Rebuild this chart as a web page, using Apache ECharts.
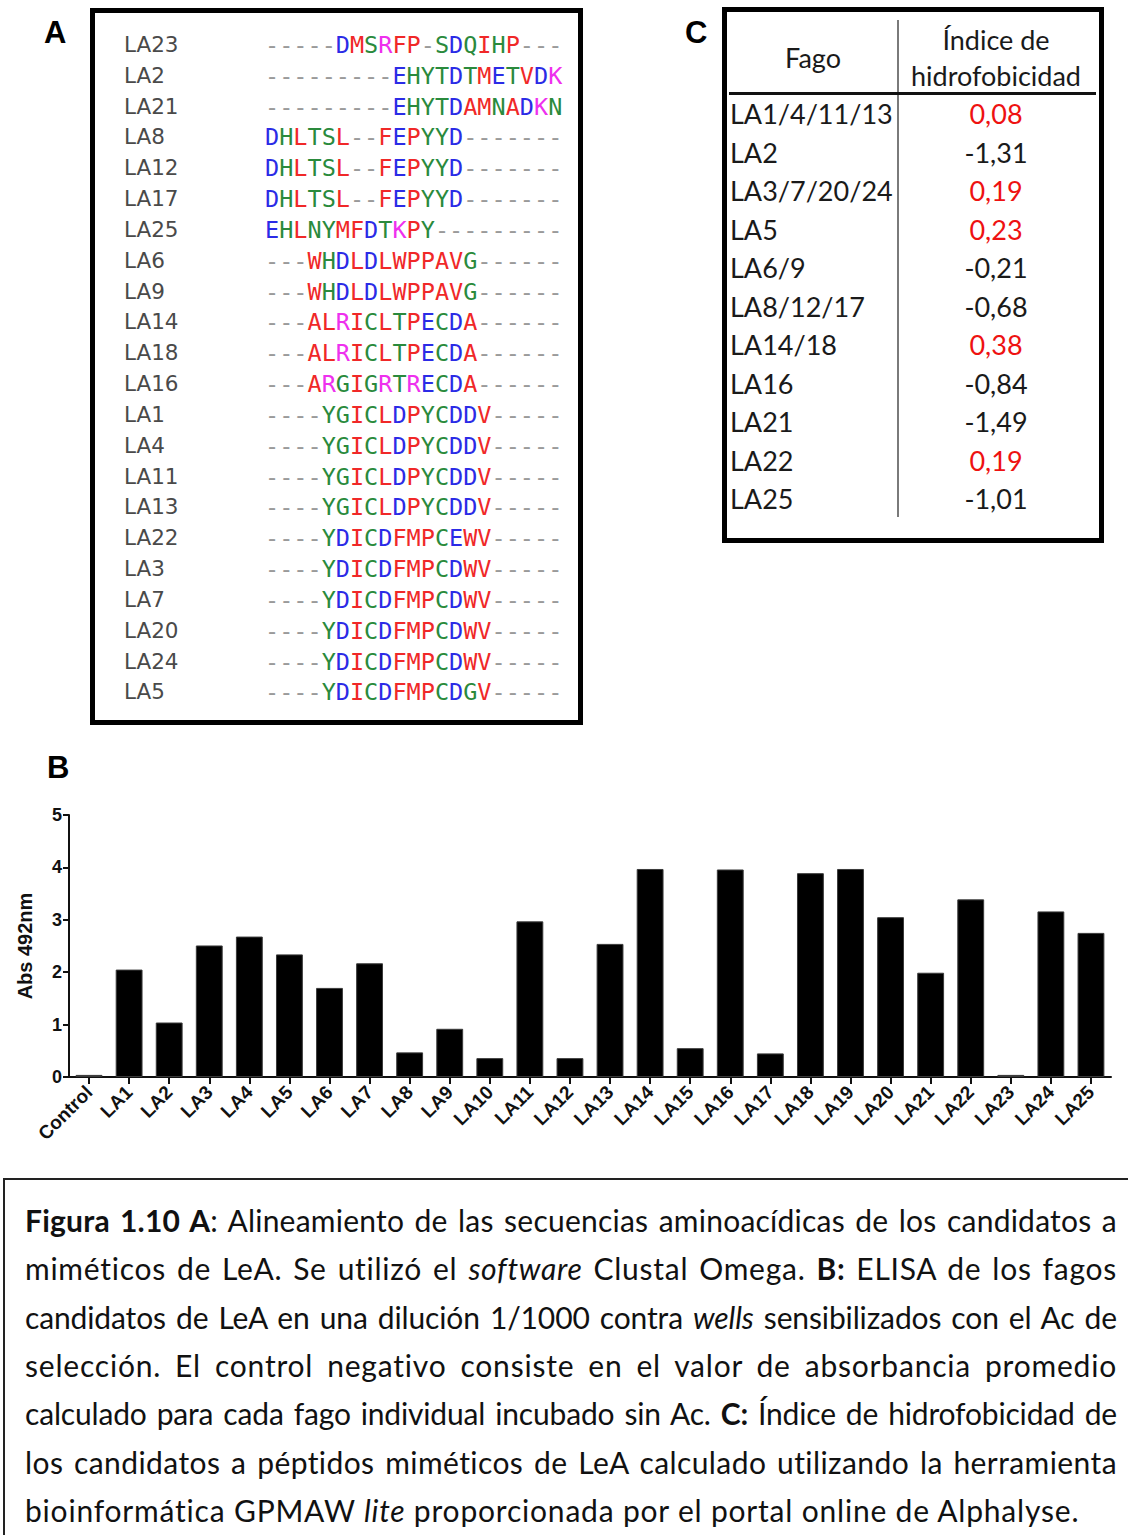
<!DOCTYPE html>
<html>
<head>
<meta charset="utf-8">
<script src="https://cdn.jsdelivr.net/npm/echarts@6/dist/echarts.min.js"></script>
<style>
  html, body { margin:0; padding:0; background:#fff; }
  body { width:1128px; height:1535px; position:relative; overflow:hidden; }
  .plabel { position:absolute; font-family:"Liberation Sans", Arial, sans-serif; font-weight:bold; font-size:31px; line-height:36px; color:#000; }
  #boxA { position:absolute; left:90px; top:8px; width:493px; height:717px; box-sizing:border-box; border:5px solid #000; }
  .alab { position:absolute; left:124px; height:30px; line-height:30px; font-family:"DejaVu Sans", sans-serif; font-size:21.5px; color:#4a4a4a; white-space:pre; }
  .aseq { position:absolute; left:265px; height:30px; line-height:30px; font-family:"DejaVu Sans Mono", monospace; font-size:23.5px; white-space:pre; }
  #boxC { position:absolute; left:722px; top:7px; width:382px; height:536px; box-sizing:border-box; border:5px solid #000; }
  .tc { position:absolute; font-family:Lato, "Noto Sans", sans-serif; font-size:27px; line-height:36px; color:#1a1a1a; white-space:pre; }
  #caption { position:absolute; left:3px; top:1178px; width:1140px; height:400px; box-sizing:border-box; border-left:2px solid #222; border-top:2px solid #222; }
  .cl { position:absolute; left:20px; font-family:Lato, "Noto Sans", sans-serif; font-size:30px; letter-spacing:0px; line-height:40px; color:#111; white-space:nowrap; }
  #chartB { position:absolute; left:0; top:790px; width:1128px; height:380px; }
</style>
</head>
<body>
<div class="plabel" style="left:44px; top:15px;">A</div>
<div class="plabel" style="left:685px; top:15px;">C</div>
<div class="plabel" style="left:47px; top:750px;">B</div>
<div id="boxA"></div>
<div id="alignRows"></div>
<div id="boxC"></div>
<div id="tableC"></div>
<div id="chartB"></div>
<div id="caption"></div>

<script>
// ---------- DATA ----------
// Panel A: alignment (Clustal Omega)
const alignNames = ["LA23","LA2","LA21","LA8","LA12","LA17","LA25","LA6","LA9","LA14","LA18","LA16","LA1","LA4","LA11","LA13","LA22","LA3","LA7","LA20","LA24","LA5"];
const alignSeqs = [
  "-----DMSRFP-SDQIHP---",
  "---------EHYTDTMETVDK",
  "---------EHYTDAMNADKN",
  "DHLTSL--FEPYYD-------",
  "DHLTSL--FEPYYD-------",
  "DHLTSL--FEPYYD-------",
  "EHLNYMFDTKPY---------",
  "---WHDLDLWPPAVG------",
  "---WHDLDLWPPAVG------",
  "---ALRICLTPECDA------",
  "---ALRICLTPECDA------",
  "---ARGIGRTRECDA------",
  "----YGICLDPYCDDV-----",
  "----YGICLDPYCDDV-----",
  "----YGICLDPYCDDV-----",
  "----YGICLDPYCDDV-----",
  "----YDICDFMPCEWV-----",
  "----YDICDFMPCDWV-----",
  "----YDICDFMPCDWV-----",
  "----YDICDFMPCDWV-----",
  "----YDICDFMPCDWV-----",
  "----YDICDFMPCDGV-----"
];

// Panel B: ELISA absorbance
const categories = ["Control","LA1","LA2","LA3","LA4","LA5","LA6","LA7","LA8","LA9","LA10","LA11","LA12","LA13","LA14","LA15","LA16","LA17","LA18","LA19","LA20","LA21","LA22","LA23","LA24","LA25"];
const absValues = [0.04,2.05,1.04,2.51,2.68,2.34,1.70,2.17,0.47,0.92,0.36,2.97,0.36,2.54,3.97,0.55,3.96,0.45,3.89,3.97,3.05,1.99,3.39,0.04,3.16,2.75];
const yAxisMin = 0, yAxisMax = 5, yAxisStep = 1;
const yAxisTitle = "Abs 492nm";

// Panel C: hydrophobicity index
const tableHeader = ["Fago", "Índice de", "hidrofobicidad"];
const fagoNames = ["LA1/4/11/13","LA2","LA3/7/20/24","LA5","LA6/9","LA8/12/17","LA14/18","LA16","LA21","LA22","LA25"];
const hydroIndex = [0.08,-1.31,0.19,0.23,-0.21,-0.68,0.38,-0.84,-1.49,0.19,-1.01];

// Caption
const captionLines = [
  "<b>Figura 1.10 A</b>: Alineamiento de las secuencias aminoacídicas de los candidatos a",
  "miméticos de LeA. Se utilizó el <i>software</i> Clustal Omega. <b>B:</b> ELISA de los fagos",
  "candidatos de LeA en una dilución 1/1000 contra <i>wells</i> sensibilizados con el Ac de",
  "selección. El control negativo consiste en el valor de absorbancia promedio",
  "calculado para cada fago individual incubado sin Ac. <b>C:</b> Índice de hidrofobicidad de",
  "los candidatos a péptidos miméticos de LeA calculado utilizando la herramienta",
  "bioinformática GPMAW <i>lite</i> proporcionada por el portal online de Alphalyse."
];

// ---------- PANEL A ----------
const residueColor = (ch) => {
  if (ch === "-") return "#9a9a9a";
  if ("AVFPMILW".includes(ch)) return "#f02828";
  if ("DE".includes(ch)) return "#2b2be6";
  if ("RK".includes(ch)) return "#ee30ee";
  return "#2a8a3c";
};
(function(){
  const wrap = document.getElementById("alignRows");
  const y0 = 45, dy = 30.83;
  alignNames.forEach((n, i) => {
    const cy = y0 + i * dy;
    const lab = document.createElement("div");
    lab.className = "alab"; lab.style.top = (cy - 15) + "px"; lab.textContent = n;
    wrap.appendChild(lab);
    const seq = document.createElement("div");
    seq.className = "aseq"; seq.style.top = (cy - 15) + "px";
    for (const ch of alignSeqs[i]) {
      const s = document.createElement("span");
      s.style.color = residueColor(ch); s.textContent = ch;
      seq.appendChild(s);
    }
    wrap.appendChild(seq);
  });
})();

// ---------- PANEL C ----------
(function(){
  const wrap = document.getElementById("tableC");
  const add = (txt, x, cy, align, color) => {
    const d = document.createElement("div");
    d.className = "tc"; d.textContent = txt;
    d.style.top = (cy - 18) + "px";
    if (align === "center") { d.style.left = (x - 150) + "px"; d.style.width = "300px"; d.style.textAlign = "center"; }
    else { d.style.left = x + "px"; }
    if (color) d.style.color = color;
    wrap.appendChild(d);
  };
  add(tableHeader[0], 813, 58, "center");
  add(tableHeader[1], 996, 40, "center");
  add(tableHeader[2], 996, 76, "center");
  const vline = document.createElement("div");
  vline.style.cssText = "position:absolute;left:897px;top:20px;width:2px;height:497px;background:#7a7a7a;";
  wrap.appendChild(vline);
  const hline = document.createElement("div");
  hline.style.cssText = "position:absolute;left:729px;top:92px;width:367px;height:3px;background:#111;";
  wrap.appendChild(hline);
  const fmt = v => v.toFixed(2).replace(".", ",");
  fagoNames.forEach((n, i) => {
    const cy = 114 + i * 38.5;
    add(n, 730, cy, "left");
    add(fmt(hydroIndex[i]), 996, cy, "center", hydroIndex[i] > 0 ? "#ee1111" : "#1a1a1a");
  });
})();

// ---------- CAPTION (justified by letter/word spacing) ----------
(function(){
  const wrap = document.getElementById("caption");
  const target = 1092;      // justified line width
  const lastTarget = 1058;  // natural width of the last line in the reference
  const maxLs = 0.8, minGap = 2.5;
  captionLines.forEach((html, i) => {
    const d = document.createElement("div");
    d.className = "cl";
    d.innerHTML = html;
    d.style.top = (1218 + i * 48.33 - 20 - 1178) + "px";
    wrap.appendChild(d);
    const n = d.textContent.length;
    const gaps = (d.textContent.match(/ /g) || []).length;
    const w0 = d.getBoundingClientRect().width;
    if (i < captionLines.length - 1) {
      const ls = Math.min(maxLs, (target - w0 - gaps * minGap) / n);
      d.style.letterSpacing = ls + "px";
      const w1 = d.getBoundingClientRect().width;
      d.style.wordSpacing = ((target - w1) / gaps) + "px";
    } else {
      const ls = Math.min(maxLs, (lastTarget - w0) / n);
      d.style.letterSpacing = ls + "px";
    }
  });
})();

// ---------- PANEL B (ECharts) ----------
const chart = echarts.init(document.getElementById("chartB"), null, { renderer: "svg" });
const axisFont = { fontFamily: "Liberation Sans, Arial, sans-serif", fontWeight: "bold", color: "#111" };
chart.setOption({
  animation: false,
  grid: { left: 69, right: 17, top: 25, bottom: 93, containLabel: false },
  xAxis: {
    type: "category",
    data: categories,
    boundaryGap: true,
    axisLine: { show: true, lineStyle: { color: "#111", width: 2 } },
    axisTick: { show: true, alignWithLabel: true, length: 7, lineStyle: { color: "#111", width: 2 } },
    axisLabel: Object.assign({ rotate: 45, interval: 0, fontSize: 19, margin: 12 }, axisFont),
    splitLine: { show: false }
  },
  yAxis: {
    type: "value",
    min: yAxisMin, max: yAxisMax, interval: yAxisStep,
    name: yAxisTitle,
    nameLocation: "middle",
    nameRotate: 90,
    nameGap: 34,
    nameTextStyle: Object.assign({ fontSize: 20 }, axisFont),
    axisLine: { show: true, lineStyle: { color: "#111", width: 2 } },
    axisTick: { show: true, length: 6, lineStyle: { color: "#111", width: 2 } },
    axisLabel: Object.assign({ fontSize: 18, margin: 7 }, axisFont),
    splitLine: { show: false }
  },
  series: [{
    type: "bar",
    data: absValues,
    barWidth: "67%",
    itemStyle: { color: "#000", borderColor: "#3a3a3a", borderWidth: 1 }
  }]
});
</script>
</body>
</html>
